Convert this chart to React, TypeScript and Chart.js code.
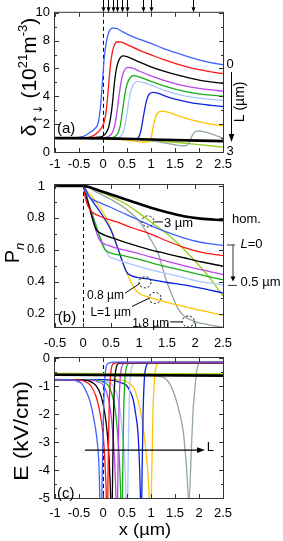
import React, { useEffect, useRef } from 'react';
import { Chart, registerables } from 'chart.js';

Chart.register(...registerables);

type Pt = [number, number];

const W = 283;
const H = 541;
const PLOT_RIGHT = 223;
const SANS = '"Liberation Sans", Arial, Helvetica, sans-serif';

// ---- series identity (L in µm) ----
const lengthLabels = ['0', '0.1', '0.2', '0.3', '0.4', '0.5', '0.8', '1', '1.8', '3'];
const lengthColors = ['#3c62ff', '#ff1414', '#000000', '#b846ea', '#18ae18', '#a8c6ff', '#0a22dc', '#ffc400', '#94a5a5', '#98d01c'];
const homColor = '#000000';

// ---- ticks ----
const xTicksAC = [-1, -0.5, 0, 0.5, 1, 1.5, 2, 2.5];
const xTicksB = [-0.5, 0, 0.5, 1, 1.5, 2, 2.5];
const yTicksA = [0, 2, 4, 6, 8, 10];
const yMinorA = [1, 3, 5, 7, 9];
const yTicksB = [0.2, 0.4, 0.6, 0.8, 1];
const yMinorB = [0.3, 0.5, 0.7, 0.9];
const yTicksC = [0, -1, -2, -3, -4, -5];
const yMinorC = [-0.5, -1.5, -2.5, -3.5, -4.5];

// top markers of panel (a)
const markerX = [0, 0.1, 0.2, 0.3, 0.4, 0.5, 0.84, 1.0, 1.88];

// ---- panel (a): delta (10^21 m^-3) ----
const a_hom: Pt[] = [[-1, 1], [0, 0.98], [1, 0.9], [2, 0.82], [2.5, 0.78]];
const a_L0: Pt[] = [[-1, 1], [-0.6, 1.02], [-0.45, 1.08], [-0.35, 1.22], [-0.25, 1.45], [-0.15, 1.75], [-0.1, 2.1], [-0.06, 3.0], [-0.03, 4.2], [0, 5.6], [0.03, 6.9], [0.07, 7.9], [0.12, 8.6], [0.2, 8.9], [0.28, 8.88], [0.4, 8.65], [0.6, 8.3], [0.8, 8.05], [1.0, 7.8], [1.25, 7.45], [1.5, 7.15], [1.75, 6.87], [2.0, 6.62], [2.25, 6.42], [2.5, 6.27]];
const a_L01: Pt[] = [[-1, 1], [-0.4, 1.01], [-0.25, 1.1], [-0.15, 1.3], [-0.05, 1.65], [0.02, 2.1], [0.06, 2.8], [0.09, 3.7], [0.12, 4.9], [0.15, 6.1], [0.19, 7.1], [0.24, 7.7], [0.3, 7.92], [0.38, 7.9], [0.5, 7.72], [0.75, 7.32], [1.0, 6.98], [1.25, 6.65], [1.5, 6.37], [1.75, 6.12], [2.0, 5.92], [2.25, 5.76], [2.5, 5.63]];
const a_L02: Pt[] = [[-1, 1], [-0.3, 1.0], [-0.1, 1.06], [0, 1.15], [0.07, 1.4], [0.12, 1.8], [0.16, 2.5], [0.2, 3.6], [0.23, 4.7], [0.27, 5.8], [0.32, 6.5], [0.42, 6.9], [0.5, 6.85], [0.75, 6.47], [1.0, 6.12], [1.25, 5.82], [1.5, 5.57], [1.75, 5.36], [2.0, 5.17], [2.25, 5.04], [2.5, 4.93]];
const a_L03: Pt[] = [[-1, 1], [-0.1, 1.0], [0.05, 1.04], [0.15, 1.2], [0.21, 1.5], [0.26, 2.2], [0.3, 3.1], [0.34, 4.2], [0.38, 5.1], [0.43, 5.75], [0.52, 6.08], [0.62, 6.02], [0.75, 5.82], [1.0, 5.47], [1.25, 5.17], [1.5, 4.92], [1.75, 4.72], [2.0, 4.57], [2.25, 4.46], [2.5, 4.37]];
const a_L04: Pt[] = [[-1, 1], [0, 1.0], [0.15, 1.02], [0.25, 1.12], [0.31, 1.35], [0.36, 1.9], [0.4, 2.8], [0.44, 3.8], [0.48, 4.6], [0.54, 5.2], [0.63, 5.48], [0.75, 5.4], [1.0, 5.07], [1.25, 4.77], [1.5, 4.52], [1.75, 4.32], [2.0, 4.18], [2.25, 4.08], [2.5, 4.01]];
const a_L05: Pt[] = [[-1, 1], [0.1, 1.0], [0.28, 1.02], [0.36, 1.12], [0.41, 1.35], [0.46, 1.95], [0.5, 2.8], [0.54, 3.7], [0.58, 4.4], [0.64, 4.9], [0.73, 5.07], [0.85, 4.98], [1.0, 4.8], [1.25, 4.47], [1.5, 4.2], [1.75, 4.0], [2.0, 3.87], [2.25, 3.78], [2.5, 3.71]];
const a_L08: Pt[] = [[-1, 1], [0.2, 0.98], [0.5, 0.94], [0.68, 0.93], [0.74, 1.05], [0.78, 1.4], [0.82, 2.1], [0.86, 2.9], [0.9, 3.6], [0.95, 4.1], [1.04, 4.28], [1.15, 4.22], [1.3, 4.02], [1.5, 3.8], [1.75, 3.6], [2.0, 3.45], [2.25, 3.35], [2.5, 3.27]];
const a_L1: Pt[] = [[-1, 1], [0, 0.97], [0.3, 0.9], [0.6, 0.8], [0.85, 0.72], [0.95, 0.73], [0.99, 0.9], [1.02, 1.3], [1.05, 1.9], [1.09, 2.45], [1.14, 2.8], [1.22, 2.93], [1.35, 2.86], [1.5, 2.68], [1.75, 2.4], [2.0, 2.18], [2.25, 2.0], [2.5, 1.87]];
const a_L18: Pt[] = [[-1, 1], [0, 0.98], [0.5, 0.92], [1.0, 0.8], [1.3, 0.64], [1.5, 0.52], [1.65, 0.45], [1.74, 0.46], [1.79, 0.65], [1.83, 0.95], [1.87, 1.25], [1.92, 1.45], [1.98, 1.52], [2.1, 1.47], [2.2, 1.37], [2.3, 1.25], [2.4, 1.12], [2.5, 1.0]];
const a_L3: Pt[] = [[-1, 1], [0, 1.0], [0.5, 0.93], [1.0, 0.83], [1.5, 0.7], [2.0, 0.53], [2.5, 0.35]];

// ---- panel (b): P_n ----
const b_hom: Pt[] = [[-0.5, 1], [0, 1], [0.3, 0.97], [0.6, 0.935], [0.9, 0.9], [1.2, 0.865], [1.5, 0.835], [1.8, 0.81], [2.1, 0.795], [2.5, 0.786]];
const b_L0: Pt[] = [[-0.5, 1], [0, 1], [0.05, 0.96], [0.1, 0.935], [0.2, 0.91], [0.3, 0.895], [0.5, 0.865], [0.75, 0.825], [1.0, 0.785], [1.25, 0.745], [1.5, 0.71], [1.75, 0.68], [2.0, 0.655], [2.25, 0.638], [2.5, 0.627]];
const b_L01: Pt[] = [[-0.5, 1], [0, 1], [0.04, 0.93], [0.08, 0.88], [0.15, 0.84], [0.3, 0.81], [0.6, 0.775], [0.9, 0.735], [1.2, 0.7], [1.5, 0.655], [1.8, 0.615], [2.1, 0.585], [2.5, 0.563]];
const b_L02: Pt[] = [[-0.5, 1], [0, 1], [0.06, 0.93], [0.12, 0.86], [0.18, 0.78], [0.24, 0.725], [0.32, 0.703], [0.6, 0.665], [0.9, 0.63], [1.2, 0.6], [1.5, 0.575], [1.8, 0.55], [2.1, 0.525], [2.5, 0.497]];
const b_L03: Pt[] = [[-0.5, 1], [0, 1], [0.1, 0.88], [0.2, 0.76], [0.27, 0.68], [0.32, 0.65], [0.45, 0.627], [0.6, 0.61], [0.9, 0.585], [1.2, 0.555], [1.5, 0.528], [1.8, 0.5], [2.1, 0.475], [2.5, 0.445]];
const b_L04: Pt[] = [[-0.5, 1], [0, 1], [0.1, 0.89], [0.2, 0.785], [0.3, 0.68], [0.37, 0.615], [0.42, 0.592], [0.55, 0.575], [0.7, 0.565], [1.0, 0.54], [1.3, 0.51], [1.6, 0.485], [1.9, 0.46], [2.2, 0.435], [2.5, 0.412]];
const b_L05: Pt[] = [[-0.5, 1], [0, 1], [0.1, 0.89], [0.2, 0.79], [0.3, 0.69], [0.4, 0.6], [0.46, 0.56], [0.55, 0.545], [0.9, 0.505], [1.2, 0.475], [1.5, 0.45], [1.8, 0.425], [2.1, 0.4], [2.5, 0.38]];
const b_L08: Pt[] = [[-0.5, 1], [0, 1], [0.1, 0.94], [0.2, 0.89], [0.3, 0.84], [0.4, 0.785], [0.49, 0.73], [0.6, 0.63], [0.7, 0.53], [0.78, 0.46], [0.85, 0.44], [1.0, 0.425], [1.2, 0.415], [1.5, 0.395], [1.8, 0.38], [2.1, 0.36], [2.5, 0.33]];
const b_L1: Pt[] = [[-0.5, 1], [0, 1], [0.1, 0.955], [0.2, 0.915], [0.36, 0.835], [0.5, 0.73], [0.6, 0.635], [0.71, 0.52], [0.8, 0.44], [0.9, 0.37], [0.96, 0.34], [1.05, 0.318], [1.2, 0.3], [1.5, 0.27], [1.8, 0.245], [2.1, 0.22], [2.5, 0.19]];
const b_L18: Pt[] = [[-0.5, 1], [0, 1], [0.25, 0.96], [0.5, 0.915], [0.75, 0.86], [1.0, 0.78], [1.2, 0.67], [1.35, 0.57], [1.45, 0.45], [1.55, 0.35], [1.7, 0.23], [1.8, 0.185], [2.0, 0.15], [2.25, 0.13], [2.5, 0.115]];
const b_L3: Pt[] = [[-0.5, 1], [0, 1], [0.25, 0.97], [0.5, 0.935], [0.75, 0.89], [1.0, 0.83], [1.25, 0.765], [1.5, 0.7], [1.75, 0.62], [2.0, 0.53], [2.25, 0.43], [2.5, 0.31]];

// annotation circles in (b): [x, y] centre
const circ3um: Pt = [1.16, 0.778];
const circ08um: Pt = [1.107, 0.396];
const circ1um: Pt = [1.286, 0.298];
const circ18um: Pt = [1.88, 0.151];

// ---- panel (c): E (kV/cm) ----
const c_hom: Pt[] = [[-1, -0.6], [2.5, -0.63]];
const c_L0: Pt[] = [[-1, -0.76], [-0.7, -0.78], [-0.45, -0.9], [-0.35, -1.2], [-0.27, -1.55], [-0.2, -2.1], [-0.13, -2.85], [-0.08, -4.0], [-0.045, -6.5], [-0.015, -4.0], [0.01, -2.0], [0.035, -0.8], [0.07, -0.3], [0.12, -0.18], [0.25, -0.15], [2.5, -0.15]];
const c_L01: Pt[] = [[-1, -0.77], [-0.5, -0.79], [-0.35, -0.86], [-0.25, -1.0], [-0.15, -1.35], [-0.07, -1.9], [0, -2.7], [0.04, -3.7], [0.07, -5.0], [0.085, -6.5], [0.105, -4.2], [0.125, -2.0], [0.15, -0.8], [0.18, -0.32], [0.23, -0.19], [0.35, -0.16], [2.5, -0.16]];
const c_L02: Pt[] = [[-1, -0.77], [-0.4, -0.79], [-0.25, -0.85], [-0.15, -0.98], [-0.05, -1.3], [0.03, -1.9], [0.09, -2.7], [0.13, -3.7], [0.16, -5.0], [0.18, -6.5], [0.2, -4.2], [0.22, -2.0], [0.245, -0.8], [0.28, -0.32], [0.33, -0.19], [0.45, -0.17], [2.5, -0.17]];
const c_L03: Pt[] = [[-1, -0.78], [-0.2, -0.8], [-0.1, -0.85], [0, -0.96], [0.08, -1.25], [0.15, -1.8], [0.2, -2.6], [0.24, -3.6], [0.27, -5.0], [0.29, -6.5], [0.31, -4.2], [0.33, -2.0], [0.355, -0.8], [0.39, -0.32], [0.44, -0.19], [0.55, -0.18], [2.5, -0.18]];
const c_L04: Pt[] = [[-1, -0.78], [-0.1, -0.8], [0, -0.85], [0.1, -0.96], [0.18, -1.25], [0.25, -1.8], [0.3, -2.6], [0.34, -3.6], [0.37, -5.0], [0.39, -6.5], [0.41, -4.2], [0.43, -2.0], [0.455, -0.8], [0.49, -0.32], [0.54, -0.19], [0.65, -0.18], [2.5, -0.18]];
const c_L05: Pt[] = [[-1, -0.79], [0, -0.81], [0.1, -0.86], [0.2, -0.97], [0.28, -1.25], [0.35, -1.8], [0.4, -2.6], [0.45, -3.6], [0.48, -5.0], [0.5, -6.5], [0.52, -4.2], [0.54, -2.0], [0.565, -0.8], [0.6, -0.32], [0.65, -0.2], [0.75, -0.19], [2.5, -0.19]];
const c_L08: Pt[] = [[-1, -0.77], [0, -0.77], [0.2, -0.8], [0.35, -0.87], [0.5, -1.0], [0.58, -1.25], [0.63, -1.5], [0.68, -2.0], [0.73, -2.7], [0.76, -3.8], [0.78, -5.0], [0.795, -6.5], [0.815, -4.0], [0.835, -2.0], [0.86, -0.8], [0.9, -0.3], [0.95, -0.18], [1.1, -0.16], [2.5, -0.16]];
const c_L1: Pt[] = [[-1, -0.77], [0.2, -0.77], [0.4, -0.8], [0.55, -0.9], [0.65, -1.1], [0.72, -1.45], [0.77, -1.8], [0.83, -2.4], [0.88, -3.1], [0.93, -4.0], [0.965, -5.0], [0.99, -6.5], [1.015, -4.2], [1.04, -2.0], [1.07, -0.8], [1.11, -0.3], [1.16, -0.17], [1.3, -0.14], [2.5, -0.14]];
const c_L18: Pt[] = [[-1, -0.6], [0.8, -0.61], [1.1, -0.64], [1.29, -0.72], [1.4, -0.95], [1.53, -1.53], [1.6, -2.0], [1.67, -2.6], [1.74, -3.9], [1.79, -5.15], [1.84, -3.3], [1.88, -1.8], [1.91, -1.17], [1.95, -0.5], [2.0, -0.18], [2.1, -0.13], [2.5, -0.13]];
const c_L3: Pt[] = [[-1, -0.55], [2.5, -0.57]];

// ---------------- helpers ----------------
interface Piece { t: string; size: number; dy?: number; italic?: boolean; family?: string; }

function fontOf(p: Piece) {
  return `${p.italic ? 'italic ' : ''}${p.size}px ${p.family || SANS}`;
}

function drawRich(ctx: CanvasRenderingContext2D, pieces: Piece[], x: number, y: number,
  opt: { align?: 'left' | 'center' | 'right'; rot?: number; sx?: number } = {}) {
  const align = opt.align || 'left';
  const rot = opt.rot || 0;
  const sx = opt.sx || 1;
  ctx.save();
  ctx.translate(x, y);
  if (rot) ctx.rotate(rot);
  ctx.scale(sx, 1);
  ctx.fillStyle = '#000';
  ctx.textBaseline = 'alphabetic';
  ctx.textAlign = 'left';
  const widths = pieces.map((p) => { ctx.font = fontOf(p); return ctx.measureText(p.t).width; });
  const total = widths.reduce((s, w) => s + w, 0);
  const main = Math.max(...pieces.map((p) => p.size));
  let cx = align === 'left' ? 0 : align === 'center' ? -total / 2 : -total;
  const base = main * 0.358;
  pieces.forEach((p, i) => {
    ctx.font = fontOf(p);
    ctx.fillText(p.t, cx, base + (p.dy || 0));
    cx += widths[i];
  });
  ctx.restore();
}

function seg(ctx: CanvasRenderingContext2D, x1: number, y1: number, x2: number, y2: number) {
  ctx.beginPath();
  ctx.moveTo(x1, y1);
  ctx.lineTo(x2, y2);
  ctx.stroke();
}

function head(ctx: CanvasRenderingContext2D, tx: number, ty: number, dx: number, dy: number, len: number, half: number) {
  const bx = tx - dx * len;
  const by = ty - dy * len;
  const nx = -dy;
  const ny = dx;
  ctx.beginPath();
  ctx.moveTo(tx, ty);
  ctx.lineTo(bx + nx * half, by + ny * half);
  ctx.lineTo(bx - nx * half, by - ny * half);
  ctx.closePath();
  ctx.fill();
}

function drawFrame(chart: any, xMajor: number[], yMajor: number[], yMinor: number[]) {
  const { ctx, chartArea: a, scales } = chart;
  ctx.save();
  ctx.strokeStyle = '#333';
  ctx.lineWidth = 1;
  ctx.setLineDash([]);
  ctx.strokeRect(a.left - 0.5, a.top - 0.5, a.right - a.left + 1, a.bottom - a.top + 1);
  ctx.beginPath();
  xMajor.forEach((v) => {
    const p = Math.round(scales.x.getPixelForValue(v)) + 0.5;
    ctx.moveTo(p, a.bottom); ctx.lineTo(p, a.bottom - 4);
    ctx.moveTo(p, a.top); ctx.lineTo(p, a.top + 4);
  });
  const yt = (v: number, len: number) => {
    const p = Math.round(scales.y.getPixelForValue(v)) + 0.5;
    ctx.moveTo(a.left, p); ctx.lineTo(a.left + len, p);
    ctx.moveTo(a.right, p); ctx.lineTo(a.right - len, p);
  };
  yMajor.forEach((v) => yt(v, 4));
  yMinor.forEach((v) => yt(v, 2));
  ctx.stroke();
  ctx.restore();
}

function drawZero(chart: any) {
  const { ctx, chartArea: a, scales } = chart;
  const p = Math.round(scales.x.getPixelForValue(0)) + 0.5;
  ctx.save();
  ctx.setLineDash([4, 3]);
  ctx.strokeStyle = '#000';
  ctx.lineWidth = 1;
  seg(ctx, p, a.top, p, a.bottom);
  ctx.restore();
}

interface Series { data: Pt[]; color: string; width: number; }

function buildSeries(hom: Pt[], perL: Pt[][], homWidth: number): Series[] {
  const out: Series[] = [{ data: hom, color: homColor, width: homWidth }];
  perL.forEach((d, i) => out.push({ data: d, color: lengthColors[i], width: i === 9 ? 1.4 : 1.3 }));
  return out;
}

interface PanelOpts {
  series: Series[];
  xMin: number; xMax: number; yMin: number; yMax: number;
  xTicks: number[]; yTicks: number[];
  top: number; bottom: number; xPad: number; yPad: number;
  draw: (c: any) => void;
}

function makeConfig(o: PanelOpts): any {
  const tickFont = { family: SANS, size: 13 };
  return {
    type: 'line',
    data: {
      datasets: o.series.map((s, i) => ({
        label: i === 0 ? 'hom.' : 'L=' + lengthLabels[i - 1],
        data: s.data.map(([x, y]) => ({ x, y })),
        borderColor: s.color,
        borderWidth: s.width,
        pointRadius: 0,
        pointHoverRadius: 0,
        fill: false,
        cubicInterpolationMode: 'monotone',
      })),
    },
    options: {
      animation: false,
      responsive: false,
      devicePixelRatio: 1,
      events: [],
      layout: { padding: { left: 0, right: W - PLOT_RIGHT, top: o.top, bottom: H - o.bottom - 30 } },
      plugins: { legend: { display: false }, tooltip: { enabled: false }, title: { display: false } },
      scales: {
        x: {
          type: 'linear', min: o.xMin, max: o.xMax,
          afterBuildTicks: (s: any) => { s.ticks = o.xTicks.map((v) => ({ value: v })); },
          afterFit: (s: any) => { s.height = 30; },
          grid: { display: false, drawTicks: false },
          border: { display: false },
          ticks: { autoSkip: false, maxRotation: 0, minRotation: 0, padding: o.xPad, color: '#000', font: tickFont, callback: (v: number) => String(v) },
        },
        y: {
          type: 'linear', min: o.yMin, max: o.yMax,
          afterBuildTicks: (s: any) => { s.ticks = o.yTicks.map((v) => ({ value: v })); },
          afterFit: (s: any) => { s.width = 55; },
          grid: { display: false, drawTicks: false },
          border: { display: false },
          ticks: { autoSkip: false, padding: o.yPad, color: '#000', font: tickFont, callback: (v: number) => String(v) },
        },
      },
    },
    plugins: [{
      id: 'deco',
      beforeDatasetsDraw: (c: any) => drawZero(c),
      afterDatasetsDraw: (c: any) => o.draw(c),
    }],
  };
}

const last = (d: Pt[]) => d[d.length - 1][1];

// ---------------- panel configs ----------------
const cfgA = makeConfig({
  series: buildSeries(a_hom, [a_L0, a_L01, a_L02, a_L03, a_L04, a_L05, a_L08, a_L1, a_L18, a_L3], 2.6),
  xMin: -1, xMax: 2.5, yMin: 0, yMax: 10, xTicks: xTicksAC, yTicks: yTicksA,
  top: 9, bottom: 152, xPad: 5, yPad: 5,
  draw: (c: any) => {
    const { ctx, chartArea: a, scales: { x, y } } = c;
    drawFrame(c, xTicksAC, yTicksA, yMinorA);
    ctx.save();
    ctx.fillStyle = '#000';
    ctx.strokeStyle = '#000';
    ctx.lineWidth = 1;
    markerX.forEach((m) => {
      const p = Math.round(x.getPixelForValue(m)) + 0.5;
      seg(ctx, p, 0, p, a.top - 4);
      head(ctx, p, a.top - 0.5, 0, 1, 5, 2);
    });
    const ar = a.right + 8.5;
    seg(ctx, ar, y.getPixelForValue(5.75), ar, y.getPixelForValue(1.2));
    head(ctx, ar, y.getPixelForValue(0.72), 0, 1, 8, 2.8);
    ctx.restore();
    drawRich(ctx, [{ t: '0', size: 13 }], a.right + 7, y.getPixelForValue(last(a_L0)) - 1, { align: 'center' });
    drawRich(ctx, [{ t: '3', size: 13 }], a.right + 7, y.getPixelForValue(0.15), { align: 'center' });
    drawRich(ctx, [{ t: 'L (µm)', size: 14 }], a.right + 16, y.getPixelForValue(3.6), { align: 'center', rot: -Math.PI / 2 });
    drawRich(ctx, [{ t: '(a)', size: 15 }], x.getPixelForValue(-0.96), y.getPixelForValue(1.75));
    drawRich(ctx, [
      { t: 'δ', size: 21 },
      { t: '↑↓', size: 12, dy: 6, family: '"DejaVu Sans", sans-serif' },
      { t: ' (10', size: 21 },
      { t: '21', size: 13, dy: -9 },
      { t: 'm', size: 21 },
      { t: '-3', size: 13, dy: -9 },
      { t: ')', size: 21 },
    ], 28, 77, { align: 'center', rot: -Math.PI / 2 });
  },
});

const cfgB = makeConfig({
  series: buildSeries(b_hom, [b_L0, b_L01, b_L02, b_L03, b_L04, b_L05, b_L08, b_L1, b_L18, b_L3], 2.6),
  xMin: -0.5, xMax: 2.5, yMin: 0.116, yMax: 1.006, xTicks: xTicksB, yTicks: yTicksB,
  top: 185, bottom: 327, xPad: 8.5, yPad: 10,
  draw: (c: any) => {
    const { ctx, chartArea: a, scales: { x, y } } = c;
    drawFrame(c, xTicksB, yTicksB, yMinorB);
    const circ = (pt: Pt) => {
      const px = x.getPixelForValue(pt[0]);
      const py = y.getPixelForValue(pt[1]);
      ctx.save();
      ctx.setLineDash([2, 2]);
      ctx.strokeStyle = '#000';
      ctx.lineWidth = 1;
      ctx.beginPath();
      ctx.ellipse(px, py, 6, 5.5, 0, 0, Math.PI * 2);
      ctx.stroke();
      ctx.restore();
      return [px, py];
    };
    ctx.save();
    ctx.strokeStyle = '#000';
    ctx.lineWidth = 1;
    const [p1x, p1y] = circ(circ3um);
    seg(ctx, p1x + 7, p1y + 0.5, p1x + 15, p1y + 0.5);
    drawRich(ctx, [{ t: '3 µm', size: 13 }], p1x + 16, p1y + 0.5);
    const [p2x, p2y] = circ(circ08um);
    seg(ctx, p2x - 5, p2y + 1, p2x - 20, p2y + 11);
    drawRich(ctx, [{ t: '0.8 µm', size: 12 }], p2x - 21, p2y + 12, { align: 'right' });
    const [p3x, p3y] = circ(circ1um);
    seg(ctx, p3x - 6.5, p3y + 0.5, p3x - 23, p3y + 8.5);
    drawRich(ctx, [{ t: 'L=1 µm', size: 12 }], p3x - 24, p3y + 14, { align: 'right' });
    const [p4x, p4y] = circ(circ18um);
    seg(ctx, p4x - 6, p4y + 0.5, p4x - 18, p4y + 0.5);
    drawRich(ctx, [{ t: '1.8 µm', size: 12 }], p4x - 19, p4y + 1, { align: 'right' });

    // right side bracket
    const r = a.right;
    const yTop = y.getPixelForValue(last(b_L0)) - 0.5;
    const yBot = y.getPixelForValue(last(b_L05));
    ctx.fillStyle = '#000';
    ctx.strokeStyle = '#333';
    seg(ctx, r + 4, yTop, r + 12, yTop);
    seg(ctx, r + 10, yTop, r + 10, yBot - 6);
    head(ctx, r + 10, yBot - 3.5, 0, 1, 5, 2.5);
    seg(ctx, r + 5, yBot + 0.5, r + 14, yBot + 0.5);
    ctx.restore();
    drawRich(ctx, [{ t: 'L', size: 13, italic: true }, { t: '=0', size: 13 }], r + 17.5, yTop - 2);
    drawRich(ctx, [{ t: '0.5 µm', size: 13 }], r + 17.5, yBot - 3.5);
    drawRich(ctx, [{ t: 'hom.', size: 13 }], r + 9, y.getPixelForValue(last(b_hom)) - 1.5);
    drawRich(ctx, [{ t: '(b)', size: 15 }], x.getPixelForValue(-0.45), y.getPixelForValue(0.184));
    drawRich(ctx, [{ t: 'P', size: 20 }, { t: 'n', size: 13, italic: true, dy: 5 }], 12, 253, { align: 'center', rot: -Math.PI / 2 });
  },
});

const cfgC = makeConfig({
  series: buildSeries(c_hom, [c_L0, c_L01, c_L02, c_L03, c_L04, c_L05, c_L08, c_L1, c_L18, c_L3], 2.6),
  xMin: -1, xMax: 2.5, yMin: -5, yMax: 0, xTicks: xTicksAC, yTicks: yTicksC,
  top: 358, bottom: 498, xPad: 8, yPad: 5,
  draw: (c: any) => {
    const { ctx, scales: { x, y } } = c;
    drawFrame(c, xTicksAC, yTicksC, yMinorC);
    ctx.save();
    ctx.fillStyle = '#000';
    ctx.strokeStyle = '#000';
    ctx.lineWidth = 1.3;
    const yy = y.getPixelForValue(-3.29);
    const x1 = x.getPixelForValue(-0.375);
    const x2 = x.getPixelForValue(2.125);
    seg(ctx, x1, yy, x2 - 6, yy);
    head(ctx, x2, yy, 1, 0, 8, 2.8);
    ctx.restore();
    drawRich(ctx, [{ t: 'L', size: 13 }], x.getPixelForValue(2.16), y.getPixelForValue(-3.17));
    drawRich(ctx, [{ t: '(c)', size: 15 }], x.getPixelForValue(-0.96), y.getPixelForValue(-4.8));
    drawRich(ctx, [{ t: 'E (kV/cm)', size: 21 }], 20, 431, { align: 'center', rot: -Math.PI / 2, sx: 1.08 });
    drawRich(ctx, [{ t: 'x (µm)', size: 17 }], 145, 529, { align: 'center', sx: 1.08 });
  },
});

export default function App() {
  const refA = useRef<HTMLCanvasElement>(null);
  const refB = useRef<HTMLCanvasElement>(null);
  const refC = useRef<HTMLCanvasElement>(null);

  useEffect(() => {
    const charts: Chart[] = [];
    if (refA.current) charts.push(new Chart(refA.current, cfgA));
    if (refB.current) charts.push(new Chart(refB.current, cfgB));
    if (refC.current) charts.push(new Chart(refC.current, cfgC));
    return () => charts.forEach((ch) => ch.destroy());
  }, []);

  const cs: React.CSSProperties = { position: 'absolute', left: 0, top: 0, width: W, height: H };
  return (
    <div style={{ position: 'absolute', left: 0, top: 0, width: W, height: H, background: '#fff', overflow: 'hidden' }}>
      <canvas ref={refA} width={W} height={H} style={cs} />
      <canvas ref={refB} width={W} height={H} style={cs} />
      <canvas ref={refC} width={W} height={H} style={cs} />
    </div>
  );
}
